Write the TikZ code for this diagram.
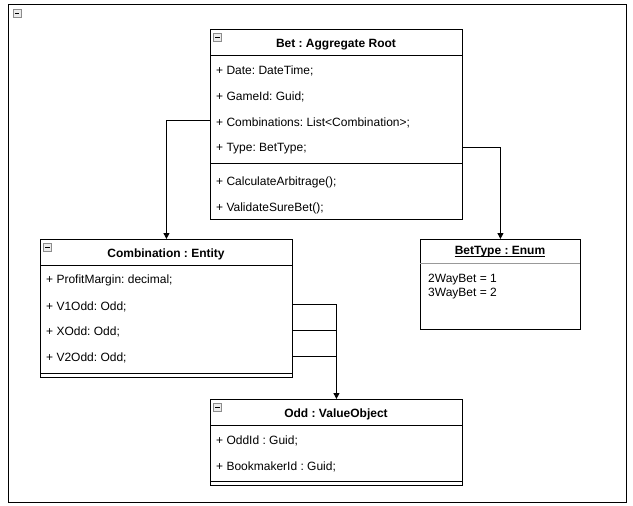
\documentclass[tikz,border=0pt]{standalone}
\usepackage{fontspec}
\setmainfont{Liberation Sans}
\usetikzlibrary{arrows.meta}
\frenchspacing
\begin{document}
\begin{tikzpicture}[x=1pt,y=-1pt,
  box/.style={draw=black, line width=0.9pt, fill=white, anchor=north west, inner sep=0pt},
  sepline/.style={draw=black, line width=0.9pt},
  attr/.style={anchor=west, inner sep=0pt, yshift=-1.5pt, font=\fontsize{12}{14}\selectfont},
  ttl/.style={inner sep=0pt, yshift=-1.5pt, font=\bfseries\fontsize{12}{14}\selectfont},
  icon/.style={draw=black!45, fill=black!8, line width=0.6pt, minimum size=8pt, inner sep=0pt,
    path picture={\draw[black, line width=1pt] ([xshift=1.8pt]path picture bounding box.west) -- ([xshift=-1.8pt]path picture bounding box.east);}},
  conn/.style={draw=black, line width=0.9pt},
  arr/.style={conn, -{Triangle[length=6pt,width=6pt]}}
]
\useasboundingbox (0,0) rectangle (633,506);
\fill[white] (0,0) rectangle (633,506);

% outer frame
\node[box, minimum width=618pt, minimum height=498pt, fill=none] (frame) at (8,4) {};
\node[icon] (ficon) at (17,13) {};

% Bet box
\node[box, minimum width=252pt, minimum height=190pt] (bet) at (210,29) {};
\draw[sepline] (210,55) -- (462,55);
\draw[sepline] (210,163) -- (462,163);
\node[icon] (beticon) at (217.5,37.5) {};
\node[ttl] (bettitle) at (336,43) {Bet : Aggregate Root};
\node[attr] (bdate) at (216,69) {+ Date: DateTime;};
\node[attr] (bgame) at (216,95) {+ GameId: Guid;};
\node[attr] (bcomb) at (216,121) {+ Combinations: List<Combination>;};
\node[attr] (btype) at (216,147) {+ Type: BetType;};
\node[attr] (bcalc) at (216,181) {+ CalculateArbitrage();};
\node[attr] (bval) at (216,207) {+ ValidateSureBet();};

% Combination box
\node[box, minimum width=252pt, minimum height=138pt] (comb) at (40,239) {};
\draw[sepline] (40,265) -- (292,265);
\draw[sepline] (40,373) -- (292,373);
\node[icon] (combicon) at (47.5,247.5) {};
\node[ttl] (combtitle) at (166,253) {Combination : Entity};
\node[attr] (cpm) at (46,279) {+ ProfitMargin: decimal;};
\node[attr] (cv1) at (46,305) {+ V1Odd: Odd;};
\node[attr] (cx) at (46,330) {+ XOdd: Odd;};
\node[attr] (cv2) at (46,356) {+ V2Odd: Odd;};

% BetType box
\node[box, minimum width=160pt, minimum height=90pt] (btenum) at (420,239) {};
\draw[draw=black!40, line width=0.9pt] (420,263) -- (580,263);
\node[ttl] (bttitle) at (500,250) {BetType : Enum};
\draw[black, line width=0.7pt] ([yshift=-1.6pt]bttitle.base west) -- ([yshift=-1.6pt]bttitle.base east);
\node[attr] (bt1) at (428,278) {2WayBet = 1};
\node[attr] (bt2) at (428,292) {3WayBet = 2};

% Odd box
\node[box, minimum width=252pt, minimum height=86pt] (odd) at (210,399) {};
\draw[sepline] (210,425) -- (462,425);
\draw[sepline] (210,481) -- (462,481);
\node[icon] (oddicon) at (217.5,407.5) {};
\node[ttl] (oddtitle) at (336,413) {Odd : ValueObject};
\node[attr] (oid) at (216,439) {+ OddId : Guid;};
\node[attr] (obid) at (216,465) {+ BookmakerId : Guid;};

% connector rows
\coordinate (rcomb) at (0,120);
\coordinate (rtype) at (0,147);
\coordinate (rv1) at (0,304);
\coordinate (rx) at (0,330);
\coordinate (rv2) at (0,356);

% connectors
\draw[arr] (bet.west |- rcomb) -| (comb.north);
\draw[arr] (bet.east |- rtype) -| (btenum.north);
\draw[arr] (comb.east |- rv1) -| (odd.north);
\draw[conn] (comb.east |- rx) -- (odd.north |- rx);
\draw[conn] (comb.east |- rv2) -- (odd.north |- rv2);
\end{tikzpicture}
\end{document}
